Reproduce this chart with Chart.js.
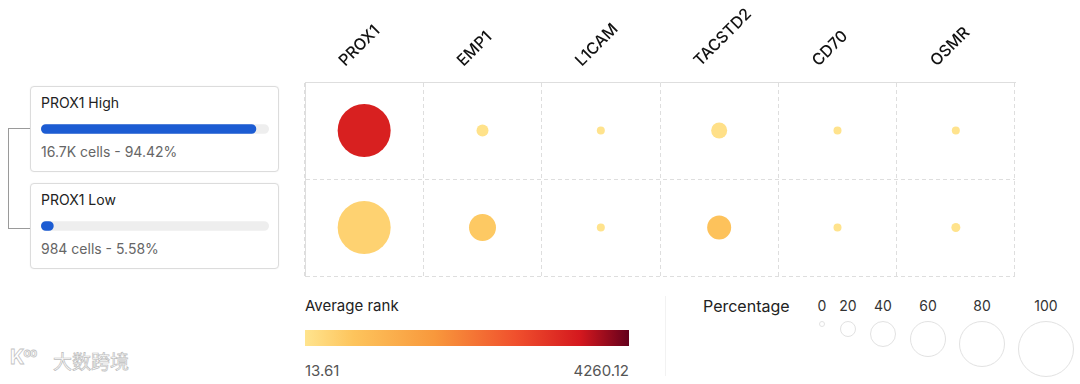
<!DOCTYPE html>
<html>
<head>
<meta charset="utf-8">
<script src="https://cdn.jsdelivr.net/npm/chart.js@4.4.1/dist/chart.umd.min.js"></script>
<style>
  body { margin: 0; background: #fff; font-family: Inter, "Noto Sans", sans-serif; color: #222; }
  #wrap { position: relative; width: 1080px; height: 384px; overflow: hidden; }
  .card { position: absolute; left: 30px; width: 247px; height: 84px; border: 1px solid #dcdcdc; border-radius: 4px; background: #fff; box-shadow: 0 0 2px rgba(0,0,0,0.06); }
  .card .title { position: absolute; left: 10px; top: 7px; font-size: 14px; color: #222; }
  .card .sub { position: absolute; left: 10px; top: 56px; font-size: 14px; color: #666; }
  .card canvas { position: absolute; left: 10px; top: 36px; }
  .link { position: absolute; background: #9a9a9a; }
  .abs { position: absolute; white-space: nowrap; }
</style>
</head>
<body>
<div id="wrap">
  <div class="link" style="left:8px;top:128px;width:1px;height:100px"></div>
  <div class="link" style="left:8px;top:128px;width:22px;height:1px"></div>
  <div class="link" style="left:8px;top:228px;width:22px;height:1px"></div>
  <div id="cards"></div>

  <canvas id="grid" width="720" height="282" style="position:absolute;left:300px;top:0"></canvas>

  <div class="abs" style="left:305px;top:296px;font-size:15px;color:#222">Average rank</div>
  <div id="cbar" class="abs" style="left:305px;top:330px;width:324px;height:16px"></div>
  <div id="cmin" class="abs" style="left:305px;top:361px;font-size:15px;color:#555"></div>
  <div id="cmax" class="abs" style="left:529px;top:361px;width:100px;text-align:right;font-size:15px;color:#555"></div>
  <div class="abs" style="left:665px;top:296px;width:1px;height:80px;background:#f2f2f2"></div>

  <div class="abs" style="left:703px;top:296px;font-size:16px;color:#222">Percentage</div>
  <div id="sizeLegend"></div>

  <div class="abs" style="left:10px;top:345px;font-size:20px;color:#fff;-webkit-text-stroke:0.8px #c4c4c4;font-weight:bold;letter-spacing:-1px">K<span style="font-size:12px;vertical-align:7px">oo</span></div>
  <div class="abs" style="left:53px;top:347px;font-size:19px;color:#fff;-webkit-text-stroke:0.7px #bdbdbd;font-family:'Noto Sans CJK SC'">大数跨境</div>
</div>

<script>
// groups on the left
var groups = ['PROX1 High', 'PROX1 Low'];
var groupCells = ['16.7K', '984'];
var groupPct = [94.42, 5.58];

// genes across the top
var genes = ['PROX1', 'EMP1', 'L1CAM', 'TACSTD2', 'CD70', 'OSMR'];

// percentage of cells expressing (bubble size)
var pctHigh = [94, 12, 4, 20, 4, 4];
var pctLow  = [94, 42, 4, 36, 4, 6];

// average rank (bubble colour)
var rankHigh = [3500, 60, 25, 90, 25, 25];
var rankLow  = [380, 560, 30, 700, 30, 40];

var rankMin = 13.61;
var rankMax = 4260.12;
var legendPcts = [0, 20, 40, 60, 80, 100];

var stops = [
    [0.00, [255, 228, 142]],
    [0.15, [253, 196, 92]],
    [0.40, [248, 152, 60]],
    [0.65, [240, 80, 45]],
    [0.85, [212, 24, 30]],
    [1.00, [100, 0, 28]]
];

function rankColor(v) {
    var t = (v - rankMin) / (rankMax - rankMin);
    t = Math.max(0, Math.min(1, t));
    for (var i = 1; i < stops.length; i++) {
        if (t <= stops[i][0]) {
            var a = stops[i - 1], b = stops[i];
            var f = (t - a[0]) / (b[0] - a[0]);
            var c = a[1].map(function (x, k) { return Math.round(x + (b[1][k] - x) * f); });
            return 'rgb(' + c.join(',') + ')';
        }
    }
    return 'rgb(' + stops[stops.length - 1][1].join(',') + ')';
}

function sizeFor(p) {
    return 3 + p * 0.25;
}

// colour bar
var grad = stops.map(function (s) { return 'rgb(' + s[1].join(',') + ') ' + (s[0] * 100) + '%'; });
document.getElementById('cbar').style.background = 'linear-gradient(to right,' + grad.join(',') + ')';
document.getElementById('cmin').textContent = rankMin.toFixed(2);
document.getElementById('cmax').textContent = rankMax.toFixed(2);

// size legend
var legendX = [822, 848, 883, 928, 982, 1046];
var lg = document.getElementById('sizeLegend');
legendPcts.forEach(function (p, i) {
    var r = sizeFor(p);
    var lab = document.createElement('div');
    lab.className = 'abs';
    lab.style.cssText = 'left:' + (legendX[i] - 20) + 'px;top:297px;width:40px;text-align:center;font-size:14px;color:#333';
    lab.textContent = p;
    lg.appendChild(lab);
    var c = document.createElement('div');
    c.className = 'abs';
    c.style.cssText = 'left:' + (legendX[i] - r) + 'px;top:321px;width:' + (2 * r - 2) + 'px;height:' + (2 * r - 2) + 'px;border:1px solid #e2e2e2;border-radius:50%';
    lg.appendChild(c);
});

// group cards with little progress bars
var cardsEl = document.getElementById('cards');
groups.forEach(function (g, i) {
    var card = document.createElement('div');
    card.className = 'card';
    card.style.top = (86 + i * 97) + 'px';
    card.innerHTML = '<div class="title">' + g + '</div><canvas width="228" height="12"></canvas>' +
        '<div class="sub">' + groupCells[i] + ' cells - ' + groupPct[i].toFixed(2) + '%</div>';
    cardsEl.appendChild(card);
    new Chart(card.querySelector('canvas'), {
        type: 'bar',
        data: {
            labels: [g],
            datasets: [
                { data: [groupPct[i]], backgroundColor: '#1c5cd3', borderRadius: 6, borderSkipped: false, grouped: false, order: 0 },
                { data: [100], backgroundColor: '#eeeeee', borderRadius: 6, borderSkipped: false, grouped: false, order: 1 }
            ]
        },
        options: {
            indexAxis: 'y',
            responsive: false,
            animation: false,
            events: [],
            barPercentage: 0.8,
            categoryPercentage: 1,
            plugins: { legend: { display: false }, tooltip: { enabled: false } },
            scales: {
                x: { display: false, min: 0, max: 100 },
                y: { display: false }
            }
        }
    });
});

// dot plot
function makePoints(pcts, ranks, g) {
    return genes.map(function (gene, i) {
        return { x: gene, y: g, r: sizeFor(pcts[i]), rank: ranks[i] };
    });
}

var geneLabels = {
    id: 'geneLabels',
    afterDraw: function (chart) {
        var ctx = chart.ctx;
        var xs = chart.scales.x;
        ctx.save();
        ctx.font = '500 16px Inter, "Noto Sans", sans-serif';
        ctx.fillStyle = '#111';
        ctx.textAlign = 'left';
        ctx.textBaseline = 'alphabetic';
        genes.forEach(function (gene, i) {
            var px = xs.getPixelForValue(i);
            ctx.save();
            ctx.translate(px - 19, 67);
            ctx.rotate(-Math.PI / 4);
            ctx.fillText(gene, 0, 0);
            ctx.restore();
        });
        ctx.restore();
    }
};

new Chart(document.getElementById('grid'), {
    type: 'bubble',
    data: {
        datasets: [
            { label: groups[0], data: makePoints(pctHigh, rankHigh, groups[0]) },
            { label: groups[1], data: makePoints(pctLow, rankLow, groups[1]) }
        ]
    },
    options: {
        responsive: false,
        animation: false,
        layout: { autoPadding: false, padding: { left: 5, right: 5, top: 82, bottom: 6 } },
        elements: {
            point: {
                backgroundColor: function (c) { return c.raw ? rankColor(c.raw.rank) : '#ccc'; },
                borderWidth: 0,
                hoverBorderWidth: 0
            }
        },
        plugins: { legend: { display: false }, tooltip: { enabled: false } },
        scales: {
            x: {
                type: 'category',
                labels: genes,
                position: 'top',
                offset: true,
                ticks: { display: false },
                grid: { offset: true, color: '#dedede', drawTicks: false },
                border: { display: true, color: '#dedede', dash: [4, 3] }
            },
            y: {
                type: 'category',
                labels: groups,
                offset: true,
                ticks: { display: false },
                grid: { offset: true, color: '#dedede', drawTicks: false },
                border: { display: true, color: '#dedede', dash: [4, 3] }
            }
        }
    },
    plugins: [geneLabels]
});
</script>
</body>
</html>
